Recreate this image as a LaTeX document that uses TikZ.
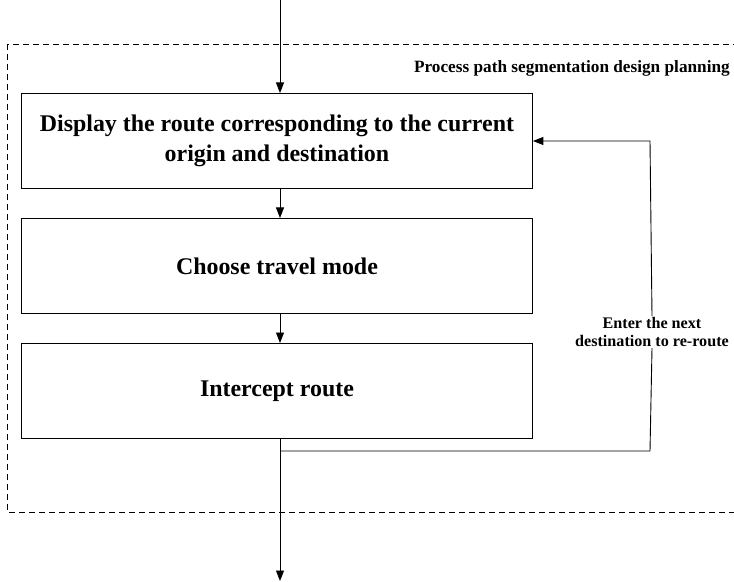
\documentclass[tikz,border=0pt]{standalone}
\usepackage{fontspec}
\setmainfont{Liberation Serif}
\usetikzlibrary{arrows.meta}
\begin{document}
\begin{tikzpicture}[x=1bp,y=-1bp,
  stepbox/.style={draw, line width=0.9bp, minimum width=511bp, anchor=north west,
    font=\fontsize{24}{30}\selectfont\bfseries, align=center, inner sep=0pt},
  flow/.style={line width=0.9bp, -{Triangle[length=10.5bp,width=8bp]}},
  link/.style={line width=0.9bp}]
\useasboundingbox (0,0) rectangle (734,582);
\clip (0,0) rectangle (734,582);
% dashed planning frame
\draw[dashed, dash pattern=on 6bp off 4bp, line width=0.7bp] (7,44) rectangle (745,512);
\node[anchor=east, font=\fontsize{17.3}{19}\selectfont\bfseries, inner sep=0pt] (title) at (730,68) {Process path segmentation design planning};
% process steps
\node[stepbox, minimum height=95bp] (b1) at (21,93) {Display the route corresponding to the current\\origin and destination};
\node[stepbox, minimum height=95bp] (b2) at (21,218) {Choose travel mode};
\node[stepbox, minimum height=95bp] (b3) at (21,343) {Intercept route};
\coordinate (top) at (280,0);
\coordinate (split) at (280,451);
\coordinate (corner1) at (650,451);
\coordinate (corner2) at (650,141);
\coordinate (bottom) at (280,581);
% connectors
\draw[flow] (top) -- (top |- b1.north);
\draw[flow] (top |- b1.south) -- (top |- b2.north);
\draw[flow] (top |- b2.south) -- (top |- b3.north);
\draw[link] (top |- b3.south) -- (split);
\draw[flow] (split) -- (bottom);
\node[font=\fontsize{16.2}{18.5}\selectfont\bfseries, align=center, fill=white, inner sep=1bp] (lbl) at (652,332) {Enter the next\\destination to re-route};
\draw[link] (split) -- (corner1) -- (lbl.south);
\draw[flow] (lbl.north) -- (corner2) -- (b1.east |- corner2);
\end{tikzpicture}
\end{document}
